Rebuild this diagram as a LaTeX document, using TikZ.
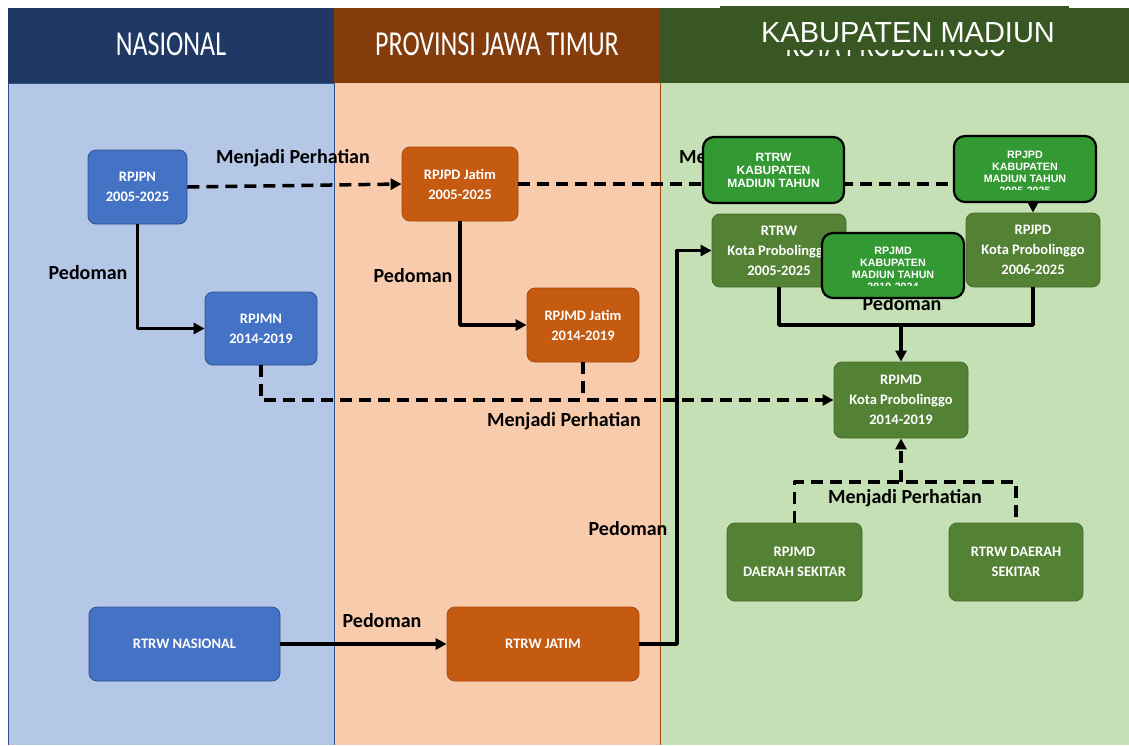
\documentclass[tikz,border=0pt]{standalone}
\usepackage{fontspec}
\usepackage{graphicx}
\setmainfont{Carlito}
\newfontfamily\arialfont{Liberation Sans}
\usetikzlibrary{arrows.meta}
\definecolor{navykepala}{HTML}{203864}
\definecolor{coklatkepala}{HTML}{843C0C}
\definecolor{hijaukepala}{HTML}{385723}
\definecolor{biruisi}{HTML}{B4C7E7}
\definecolor{oranyeisi}{HTML}{F8CBAD}
\definecolor{hijauisi}{HTML}{C5E0B4}
\definecolor{birubox}{HTML}{4472C4}
\definecolor{birugaris}{HTML}{2F528F}
\definecolor{oranyebox}{HTML}{C55A11}
\definecolor{oranyegaris}{HTML}{A9490C}
\definecolor{hijaubox}{HTML}{548235}
\definecolor{hijaugaris}{HTML}{43692A}
\definecolor{hijaukab}{HTML}{339933}
\newcommand{\hurufkotak}{\fontsize{14.5}{20}\selectfont\bfseries}
\newcommand{\hurufket}{\fontsize{20}{24}\selectfont\bfseries}
\newcommand{\hurufkepala}{\fontsize{26}{30}\selectfont}
\newcommand{\tinggi}[1]{\scalebox{1}[1.35]{#1}}
\begin{document}
\begin{tikzpicture}[x=1pt,y=-1pt,line join=round]
				\tikzset{kotak/.style={draw,rounded corners=8pt,inner sep=0pt,text=white,align=center,font=\hurufkotak,line width=0.8pt},
					kotakbiru/.style={kotak,fill=birubox,draw=birugaris},
					kotakoranye/.style={kotak,fill=oranyebox,draw=oranyegaris},
					kotakhijau/.style={kotak,fill=hijaubox,draw=hijaugaris},
					kotakkab/.style={draw=black,fill=hijaukab,rounded corners=11pt,line width=2.2pt,inner sep=0pt},
					tekskab/.style={inner sep=0pt,text=white,align=center,font=\arialfont\bfseries\fontsize{10.7}{12}\selectfont},
					kepala/.style={inner sep=0pt,text=white,font=\hurufkepala},
					keterangan/.style={inner sep=0pt,font=\hurufket},
					garis/.style={line width=3.5pt},
					garisputus/.style={garis,dash pattern=on 12pt off 7pt},
					pedoman/.style={garis,-{Triangle[length=11pt,width=11pt]}},
					perhatian/.style={garisputus,-{Triangle[length=11pt,width=11pt]}}}
				\useasboundingbox (0,0) rectangle (1129,745);
				% kolom
				\fill[biruisi] (8,83) rectangle (334,745);
				\fill[oranyeisi] (334,83) rectangle (660,745);
				\fill[hijauisi] (660,83) rectangle (1129,745);
				\draw[birugaris,line width=1pt] (8,745)--(8,83)--(334,83)--(334,745);
				\draw[oranyegaris,line width=1pt] (660,83)--(660,745);
				\fill[navykepala] (8,8) rectangle (334,83);
				\fill[coklatkepala] (334,8) rectangle (660,83);
				\fill[hijaukepala] (660,8) rectangle (1129,83);
				\node[kepala] (kepalanas) at (171,44) {\tinggi{NASIONAL}};
				\node[kepala] (kepalajatim) at (497,44) {\tinggi{PROVINSI JAWA TIMUR}};
				\node[kepala] (kepalakota) at (896,45.5) {\tinggi{KOTA PROBOLINGGO}};
				% kotak
				\node[kotakbiru,minimum width=99pt,minimum height=74pt] (rpjpn) at (137.5,187) {RPJPN\\2005-2025};
				\node[kotakbiru,minimum width=112pt,minimum height=73pt] (rpjmn) at (261,328.5) {RPJMN\\2014-2019};
				\node[kotakbiru,minimum width=191pt,minimum height=74pt] (rtrwnas) at (184.5,644) {RTRW NASIONAL};
				\node[kotakoranye,minimum width=116pt,minimum height=74pt] (rpjpdjatim) at (460,184) {RPJPD Jatim\\2005-2025};
				\node[kotakoranye,minimum width=112pt,minimum height=74pt] (rpjmdjatim) at (583,325) {RPJMD Jatim\\2014-2019};
				\node[kotakoranye,minimum width=192pt,minimum height=74pt] (rtrwjatim) at (543,644) {RTRW JATIM};
				\node[kotakhijau,minimum width=134pt,minimum height=73pt] (rtrwkota) at (779,250.5) {RTRW\\Kota Probolinggo\\2005-2025};
				\node[kotakhijau,minimum width=134pt,minimum height=74pt] (rpjpdkota) at (1033,250) {RPJPD\\Kota Probolinggo\\2006-2025};
				\node[kotakhijau,minimum width=134pt,minimum height=76pt] (rpjmdkota) at (901,400) {RPJMD\\Kota Probolinggo\\2014-2019};
				\node[kotakhijau,minimum width=135pt,minimum height=78pt] (rpjmddaerah) at (794.5,562) {RPJMD\\DAERAH SEKITAR};
				\node[kotakhijau,minimum width=134pt,minimum height=78pt] (rtrwdaerah) at (1016,562) {RTRW DAERAH\\SEKITAR};
				% panah
				\coordinate (belokrtrw) at (677,644);
				\coordinate (gabungpedo) at (901,325);
				\coordinate (gabungperh) at (901,482);
				\draw[perhatian] (rpjpn.east)--(rpjpdjatim.west);
				\draw[perhatian] (rpjpdjatim.east) -| (rpjpdkota.north);
				\draw[pedoman] (rpjpn.south) |- (rpjmn.west);
				\draw[pedoman] (rpjpdjatim.south) |- (rpjmdjatim.west);
				\draw[perhatian] (rpjmn.south) |- (rpjmdkota.west);
				\draw[garisputus] (rpjmdjatim.south)--(rpjmdjatim.south |- rpjmdkota.west);
				\draw[pedoman] (rtrwnas.east)--(rtrwjatim.west);
				\draw[pedoman] (rtrwjatim.east)--(belokrtrw) |- (rtrwkota.west);
				\draw[garis] (rtrwkota.south) |- (gabungpedo) -| (rpjpdkota.south);
				\draw[pedoman] (gabungpedo)--(rpjmdkota.north);
				\draw[garisputus] (rpjmddaerah.north) |- (gabungperh) -| (rtrwdaerah.north);
				\draw[perhatian] (gabungperh)--(rpjmdkota.south);
				% keterangan
				\node[keterangan] (ketperh1) at (293,158) {Menjadi Perhatian};
				\node[keterangan,anchor=west] (ketperh2) at (679,158) {Menjadi Perhatian};
				\node[keterangan] (ketperh3) at (564,421) {Menjadi Perhatian};
				\node[keterangan] (ketperh4) at (905,498) {Menjadi Perhatian};
				\node[keterangan] (ketpedo1) at (88,273) {Pedoman};
				\node[keterangan] (ketpedo2) at (413,276) {Pedoman};
				\node[keterangan] (ketpedo3) at (628,529) {Pedoman};
				\node[keterangan] (ketpedo4) at (382,621) {Pedoman};
				\node[keterangan] (ketpedo5) at (902,303.5) {Pedoman};
				% kotak kabupaten madiun
				\node[kotakkab,minimum width=141pt,minimum height=66pt] (rtrwkab) at (773.5,170) {};
				\node[tekskab,anchor=north,font=\arialfont\bfseries\fontsize{12}{13}\selectfont] (teksrtrwkab) at (773.5,153) {RTRW\\KABUPATEN\\MADIUN TAHUN};
				\node[kotakkab,minimum width=142pt,minimum height=66pt] (rpjpdkab) at (1025,169) {};
				\begin{scope}
					\clip (954,136) rectangle (1096,189);
					\node[tekskab,anchor=north] (teksrpjpdkab) at (1025,151) {RPJPD\\KABUPATEN\\MADIUN TAHUN\\2005-2025};
				\end{scope}
				\node[kotakkab,minimum width=142pt,minimum height=65pt] (rpjmdkab) at (893,265.5) {};
				\begin{scope}
					\clip (822,233) rectangle (964,285.5);
					\node[tekskab,anchor=north] (teksrpjmdkab) at (893,247) {RPJMD\\KABUPATEN\\MADIUN TAHUN\\2019-2024};
				\end{scope}
				\fill[hijaukepala] (720,6) rectangle (1069,50);
				\node[kepala,font=\arialfont\fontsize{29}{32}\selectfont] (kepalakab) at (908,32.5) {KABUPATEN MADIUN};
			\end{tikzpicture}
\end{document}
